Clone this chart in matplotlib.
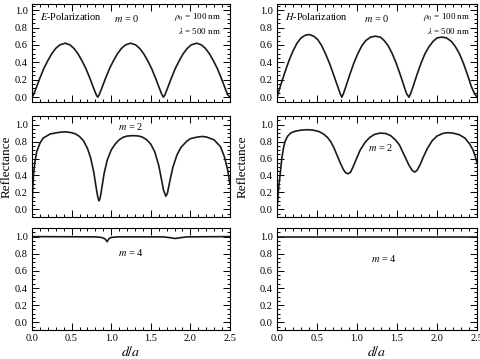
import matplotlib
matplotlib.use("Agg")
import matplotlib.pyplot as plt
from matplotlib.ticker import MultipleLocator, FormatStrFormatter

plt.rcParams['font.family'] = ['Liberation Serif', 'DejaVu Serif']
plt.rcParams['mathtext.fontset'] = 'stix'

# E-polarization, m = 0
e0_x = [0.00, 0.02, 0.05, 0.10, 0.15, 0.20, 0.25, 0.30, 0.35, 0.42, 0.48, 0.53, 0.58, 0.63,
        0.68, 0.73, 0.78, 0.81, 0.83, 0.85, 0.88, 0.93, 0.98, 1.03, 1.08, 1.13, 1.18, 1.245,
        1.31, 1.36, 1.41, 1.46, 1.51, 1.56, 1.61, 1.64, 1.66, 1.68, 1.71, 1.76, 1.81, 1.86,
        1.91, 1.96, 2.01, 2.08, 2.14, 2.19, 2.24, 2.29, 2.34, 2.39, 2.44, 2.47, 2.50]
e0_y = [0.00, 0.03, 0.10, 0.22, 0.33, 0.42, 0.50, 0.56, 0.60, 0.62, 0.60, 0.56, 0.50, 0.42,
        0.33, 0.22, 0.10, 0.03, 0.00, 0.03, 0.10, 0.22, 0.33, 0.42, 0.50, 0.56, 0.60, 0.62,
        0.60, 0.56, 0.50, 0.42, 0.33, 0.22, 0.10, 0.03, 0.00, 0.03, 0.10, 0.22, 0.33, 0.42,
        0.50, 0.56, 0.60, 0.62, 0.60, 0.56, 0.50, 0.42, 0.33, 0.22, 0.10, 0.03, 0.00]

# H-polarization, m = 0
h0_x = [0.00, 0.02, 0.05, 0.10, 0.15, 0.20, 0.25, 0.30, 0.35, 0.40, 0.46, 0.51, 0.56, 0.61,
        0.66, 0.71, 0.76, 0.79, 0.81, 0.83, 0.86, 0.91, 0.96, 1.01, 1.06, 1.11, 1.17, 1.23,
        1.29, 1.34, 1.39, 1.44, 1.49, 1.54, 1.59, 1.62, 1.65, 1.67, 1.70, 1.75, 1.80, 1.85,
        1.90, 1.95, 2.00, 2.06, 2.12, 2.18, 2.23, 2.28, 2.33, 2.38, 2.43, 2.47, 2.50]
h0_y = [0.00, 0.06, 0.15, 0.29, 0.42, 0.53, 0.62, 0.68, 0.71, 0.72, 0.70, 0.66, 0.59, 0.49,
        0.38, 0.25, 0.12, 0.04, 0.00, 0.04, 0.12, 0.26, 0.39, 0.50, 0.59, 0.65, 0.69, 0.70,
        0.69, 0.65, 0.59, 0.50, 0.39, 0.26, 0.12, 0.04, 0.00, 0.04, 0.12, 0.26, 0.39, 0.50,
        0.58, 0.64, 0.68, 0.69, 0.68, 0.64, 0.58, 0.50, 0.39, 0.26, 0.12, 0.04, 0.00]

# E-polarization, m = 2
e2_x = [0.00, 0.01, 0.02, 0.04, 0.06, 0.10, 0.14, 0.23, 0.35, 0.42, 0.50, 0.55, 0.60, 0.65,
        0.70, 0.74, 0.78, 0.81, 0.83, 0.846, 0.86, 0.88, 0.91, 0.95, 1.00, 1.05, 1.10, 1.15,
        1.20, 1.28, 1.35, 1.40, 1.45, 1.50, 1.55, 1.60, 1.63, 1.66, 1.69, 1.71, 1.74, 1.78,
        1.83, 1.88, 1.95, 2.00, 2.10, 2.15, 2.20, 2.30, 2.38, 2.43, 2.47, 2.50]
e2_y = [0.02, 0.25, 0.42, 0.58, 0.68, 0.78, 0.84, 0.89, 0.91, 0.915, 0.905, 0.89, 0.86, 0.81,
        0.72, 0.61, 0.44, 0.26, 0.15, 0.10, 0.13, 0.24, 0.42, 0.58, 0.70, 0.77, 0.82, 0.85,
        0.865, 0.87, 0.865, 0.85, 0.82, 0.77, 0.68, 0.52, 0.38, 0.23, 0.155, 0.19, 0.33, 0.50,
        0.64, 0.73, 0.80, 0.835, 0.855, 0.86, 0.855, 0.82, 0.74, 0.62, 0.47, 0.30]

# H-polarization, m = 2
h2_x = [0.00, 0.01, 0.02, 0.04, 0.06, 0.08, 0.10, 0.13, 0.17, 0.22, 0.30, 0.38, 0.45, 0.52,
        0.58, 0.63, 0.67, 0.71, 0.75, 0.79, 0.83, 0.86, 0.89, 0.92, 0.95, 0.99, 1.04, 1.10,
        1.16, 1.22, 1.29, 1.36, 1.42, 1.48, 1.53, 1.57, 1.61, 1.65, 1.69, 1.72, 1.75, 1.79,
        1.83, 1.88, 1.94, 2.00, 2.07, 2.13, 2.20, 2.28, 2.35, 2.41, 2.45, 2.48, 2.50]
h2_y = [0.02, 0.12, 0.25, 0.42, 0.60, 0.72, 0.80, 0.86, 0.90, 0.92, 0.935, 0.94, 0.935, 0.92,
        0.89, 0.85, 0.80, 0.73, 0.64, 0.55, 0.47, 0.43, 0.42, 0.44, 0.50, 0.59, 0.70, 0.79,
        0.85, 0.885, 0.90, 0.895, 0.87, 0.82, 0.76, 0.68, 0.60, 0.52, 0.46, 0.44, 0.46, 0.53,
        0.62, 0.72, 0.81, 0.865, 0.895, 0.905, 0.90, 0.88, 0.84, 0.77, 0.70, 0.62, 0.55]

# E-polarization, m = 4
e4_x = [0.00, 0.80, 0.88, 0.92, 0.95, 0.97, 1.00, 1.08, 1.65, 1.74, 1.81, 1.88, 1.96, 2.50]
e4_y = [1.00, 0.997, 0.99, 0.975, 0.94, 0.975, 0.99, 0.997, 0.997, 0.988, 0.978, 0.988, 0.997, 1.00]

# H-polarization, m = 4
h4_x = [0.00, 2.50]
h4_y = [1.00, 1.00]

x_ticks = [0.0, 0.5, 1.0, 1.5, 2.0, 2.5]

fig = plt.figure(figsize=(4.81, 3.59), dpi=100)

left_x, left_w = 0.0665, 0.4116
right_x, right_w = 0.5759, 0.4158
rows = [(0.7159, 0.273, (-0.055, 1.07)),
        (0.3955, 0.281, (-0.09, 1.10)),
        (0.0808, 0.284, (-0.09, 1.10))]

curves = [[(e0_x, e0_y), (h0_x, h0_y)],
          [(e2_x, e2_y), (h2_x, h2_y)],
          [(e4_x, e4_y), (h4_x, h4_y)]]

axes = []
for r, (bot, h, ylim) in enumerate(rows):
    row_axes = []
    for c, (x0, w) in enumerate([(left_x, left_w), (right_x, right_w)]):
        ax = fig.add_axes([x0, bot, w, h])
        xs, ys = curves[r][c]
        ax.plot(xs, ys, color='#1a1a1a', lw=1.2)
        ax.set_xlim(0, 2.5)
        ax.set_ylim(*ylim)
        ax.set_xticks(x_ticks)
        ax.xaxis.set_minor_locator(MultipleLocator(0.1))
        ax.yaxis.set_major_locator(MultipleLocator(0.2))
        ax.yaxis.set_minor_locator(MultipleLocator(0.05))
        ax.yaxis.set_major_formatter(FormatStrFormatter('%.1f'))
        ax.xaxis.set_major_formatter(FormatStrFormatter('%.1f'))
        ax.tick_params(which='both', direction='in', top=True, right=True,
                       labelsize=7.5, width=0.7, pad=3)
        ax.tick_params(which='major', length=5)
        ax.tick_params(which='minor', length=2.5)
        if r < 2:
            ax.tick_params(labelbottom=False)
        for s in ax.spines.values():
            s.set_linewidth(0.8)
        row_axes.append(ax)
    axes.append(row_axes)

txt = dict(fontsize=7.5)

# top row
a = axes[0][0]
a.text(0.04, 0.87, '$E$-Polarization', transform=a.transAxes, va='center', fontsize=7.5)
a.text(0.48, 0.85, '$m$ = 0', transform=a.transAxes, va='center', ha='center', **txt)
a.text(0.955, 0.865, r'$\rho_0$ = 100 nm', transform=a.transAxes, va='center', ha='right', fontsize=6.5)
a.text(0.955, 0.72, r'$\lambda$ = 500 nm', transform=a.transAxes, va='center', ha='right', fontsize=6.5)

a = axes[0][1]
a.text(0.04, 0.87, '$H$-Polarization', transform=a.transAxes, va='center', fontsize=7.5)
a.text(0.50, 0.85, '$m$ = 0', transform=a.transAxes, va='center', ha='center', **txt)
a.text(0.965, 0.87, r'$\rho_0$ = 100 nm', transform=a.transAxes, va='center', ha='right', fontsize=6.5)
a.text(0.965, 0.72, r'$\lambda$ = 500 nm', transform=a.transAxes, va='center', ha='right', fontsize=6.5)

# middle row (data coordinates)
axes[1][0].text(1.24, 0.98, '$m$ = 2', va='center', ha='center', **txt)
axes[1][1].text(1.30, 0.73, '$m$ = 2', va='center', ha='center', **txt)

# bottom row
axes[2][0].text(1.25, 0.81, '$m$ = 4', va='center', ha='center', **txt)
axes[2][1].text(1.33, 0.75, '$m$ = 4', va='center', ha='center', **txt)

axes[1][0].set_ylabel('Reflectance', fontsize=9.5)
axes[1][0].yaxis.set_label_coords(-0.10, 0.5)
axes[1][1].set_ylabel('Reflectance', fontsize=9.5)
axes[1][1].yaxis.set_label_coords(-0.14, 0.5)

for c in range(2):
    axes[2][c].set_xlabel('$d/a$', fontsize=10, labelpad=1)

fig.savefig('out.png', dpi=100)
